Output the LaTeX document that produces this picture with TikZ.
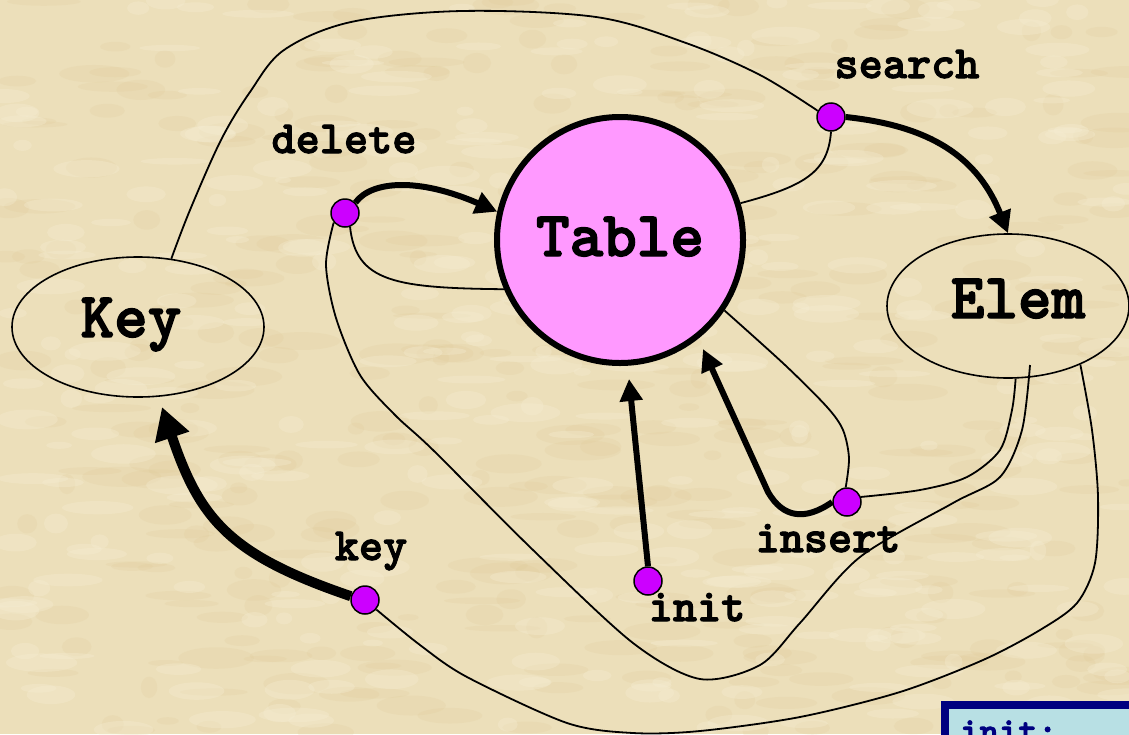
\documentclass[tikz,border=0pt]{standalone}
\usepackage{fontspec}
\newfontfamily\heavymono[FakeBold=2.2]{lmmonolt10-bold.otf}
\usetikzlibrary{arrows.meta,shapes.geometric}

\definecolor{parchment}{RGB}{236,223,186}
\definecolor{parchlight}{RGB}{246,238,212}
\definecolor{parchdark}{RGB}{222,200,148}
\definecolor{tablepink}{RGB}{255,153,255}
\definecolor{portviolet}{RGB}{204,0,255}
\definecolor{notenavy}{RGB}{0,0,128}
\definecolor{noteblue}{RGB}{184,224,228}

\pgfdeclarelayer{ground}
\pgfdeclarelayer{links}
\pgfsetlayers{ground,links,main}

\tikzset{
  thin link/.style={line width=1.8pt},
  thick link/.style={line width=6pt, -{Triangle[length=22pt,width=22pt]}},
  port/.style={circle, draw=black, line width=1.5pt, fill=portviolet,
    minimum size=28pt, inner sep=0pt},
  port label/.style={anchor=base, inner sep=0pt,
    font=\heavymono\fontsize{46}{46}\selectfont},
  type label/.style={anchor=base, inner sep=0pt,
    font=\heavymono\fontsize{64}{64}\selectfont},
  type box/.style={ellipse, draw=black, line width=1.6pt, inner sep=0pt},
}

\begin{document}
\begin{tikzpicture}[x=1pt,y=-1pt]
\useasboundingbox (0,0) rectangle (1129,734);
\clip (0,0) rectangle (1129,734);

% parchment ground with a light mottling
\begin{pgfonlayer}{ground}
\fill[parchment] (0,0) rectangle (1129,734);
\pgfmathsetseed{4}
\foreach \i in {1,...,380}{
  \fill[parchdark, opacity=0.18] (rnd*1129, rnd*734)
    ellipse [x radius={8+rnd*32}, y radius={3+rnd*8}];
}
\foreach \i in {1,...,380}{
  \fill[parchlight, opacity=0.32] (rnd*1129, rnd*734)
    ellipse [x radius={8+rnd*28}, y radius={3+rnd*7}];
}
\end{pgfonlayer}

% main nodes
\node[circle, draw=black, line width=6pt, fill=tablepink,
      minimum size=246pt, inner sep=0pt] (table) at (620,240) {};
\node[type box, minimum width=252pt, minimum height=140pt] (key) at (138,327) {};
\node[type box, minimum width=242pt, minimum height=144pt] (elem) at (1008,306) {};

\node[type label] (tableText) at (620,256) {Table};
\node[type label] (keyText) at (131,337) {Key};
\node[type label] (elemText) at (1018,318) {Elem};

% operation ports
\node[port] (delete) at (345,213) {};
\node[port] (search) at (831,117) {};
\node[port] (keyp) at (365,600) {};
\node[port] (init) at (648,581) {};
\node[port] (insert) at (847,502) {};

\node[port label] (deleteLbl) at (344,153) {delete};
\node[port label] (searchLbl) at (907,78) {search};
\node[port label] (keyLbl) at (371,560) {key};
\node[port label] (initLbl) at (697,621) {init};
\node[port label] (insertLbl) at (828,552) {insert};

\coordinate (elemIn) at (1030,365);
\coordinate (initTip) at (629,379);
\coordinate (insertTip) at (703,349);
\coordinate (keyTip) at (162,407);

\begin{pgfonlayer}{links}
% thin argument links
\draw[thin link] plot[smooth, tension=0.55] coordinates {(key.64) (190,210) (221,140)
  (250,92) (284,50) (351,22) (462,11) (596,17) (686,43) (760,75) (search.155)};
\draw[thin link] (search.south) .. controls (828,172) and (805,186) .. (table.17);
\draw[thin link] (delete.-70) .. controls (356,282) and (395,288) .. (table.203);
\draw[thin link] plot[smooth] coordinates {(delete.-140) (326,265) (336,318)
  (360,375) (395,415) (433,450) (533,550) (633,643) (700,679) (760,665) (800,623)
  (860,557) (953,503) (1000,477) (1022,430) (elemIn)};
\draw[thin link] plot[smooth] coordinates {(keyp.-40) (420,645) (467,677) (567,723)
  (633,733) (700,731) (800,717) (900,692) (983,660) (1040,630) (1077,603)
  (1095,563) (1098,497) (1092,430) (elem.-39)};
\draw[thin link] plot[smooth] coordinates {(insert.20) (920,490) (967,477)
  (1000,450) (1012,410) (elem.-84)};
\draw[thin link] plot[smooth] coordinates {(insert.95) (849,458) (843,430)
  (827,407) (785,365) (table.-34)};

% result arrows
\draw[thick link] (delete.45) .. controls (372,180) and (420,178) .. (table.167);
\draw[thick link] (search.east) .. controls (920,125) and (975,150) .. (elem.north);
\draw[thick link] (init.north) -- (initTip);
\draw[thick link] (insert.west) .. controls (805,521) and (783,518) .. (768,492) -- (insertTip);
\draw[line width=10pt, -{Triangle[length=32pt,width=34pt]}]
  (keyp.165) .. controls (230,555) and (200,520) .. (keyTip);
\end{pgfonlayer}

% note box in the corner
\node[draw=notenavy, line width=8pt, fill=noteblue, minimum width=260pt,
      minimum height=100pt, anchor=north west] (note) at (941,701) {};
\node[anchor=base west, inner sep=0pt, text=notenavy,
      font=\heavymono\fontsize{37}{37}\selectfont] (noteText) at (960,743) {init:};
\end{tikzpicture}
\end{document}
